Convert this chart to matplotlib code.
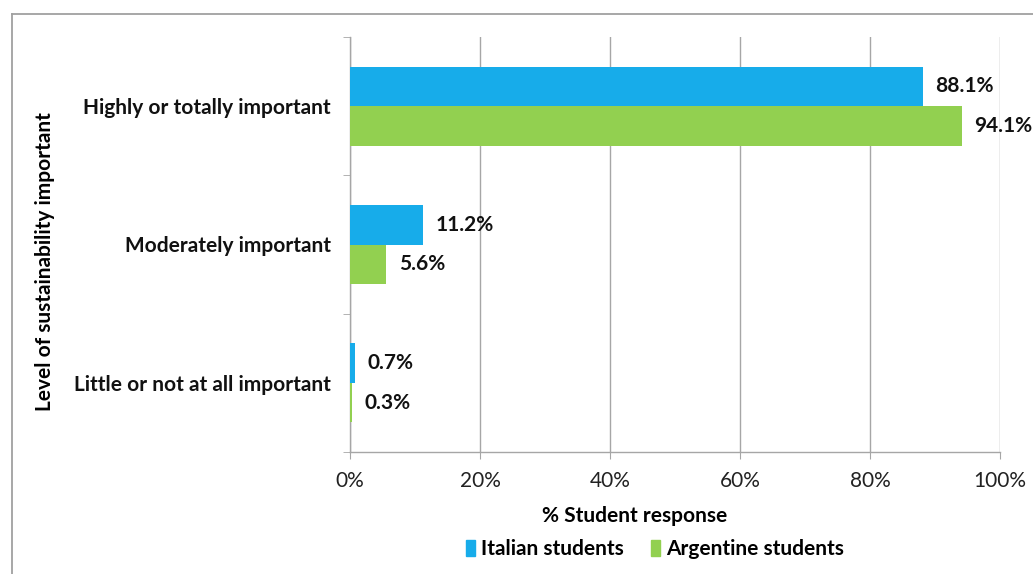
import matplotlib
matplotlib.use("Agg")
import matplotlib.pyplot as plt
from matplotlib.lines import Line2D
from matplotlib.patches import Patch
import numpy as np

categories = ["Highly or totally important", "Moderately important", "Little or not at all important"]
italian = [88.1, 11.2, 0.7]
argentine = [94.1, 5.6, 0.3]
series_names = ["Italian students", "Argentine students"]
x_ticks = [0, 20, 40, 60, 80, 100]

BLUE = "#17ACEA"
GREEN = "#92D050"
GRID = "#A6A6A6"
FONT = "Lato"
FS = 15

plt.rcParams["font.family"] = [FONT, "DejaVu Sans"]

fig = plt.figure(figsize=(10.33, 5.74), dpi=100)
ax = fig.add_axes([350 / 1033, 1 - 452 / 574, 650 / 1033, 415 / 574])

# outer chart frame (left and top edges visible)
fig.add_artist(Line2D([12 / 1033, 12 / 1033], [1 - 14 / 574, 0], transform=fig.transFigure,
                      color="#A0A0A0", lw=1.3))
fig.add_artist(Line2D([12 / 1033, 1], [1 - 14 / 574, 1 - 14 / 574], transform=fig.transFigure,
                      color="#A0A0A0", lw=1.3))

y = np.arange(len(categories))
h = 0.285
ax.barh(y - h / 2, italian, height=h, color=BLUE, zorder=3)
ax.barh(y + h / 2, argentine, height=h, color=GREEN, zorder=3)

for yi, v in zip(y - h / 2, italian):
    ax.annotate(f"{v:.1f}%", (v, yi), xytext=(9, 0), textcoords="offset points",
                va="center", ha="left", fontsize=FS, fontweight="bold", color="#111111")
for yi, v in zip(y + h / 2, argentine):
    ax.annotate(f"{v:.1f}%", (v, yi), xytext=(9, 0), textcoords="offset points",
                va="center", ha="left", fontsize=FS, fontweight="bold", color="#111111",
                annotation_clip=False)

ax.set_xlim(0, 100)
ax.set_ylim(len(categories) - 0.5, -0.5)
ax.set_xticks(x_ticks)
ax.set_xticklabels([f"{t}%" for t in x_ticks], fontsize=FS, color="#222222")
ax.set_yticks(y)
ax.set_yticklabels(categories, fontsize=FS, fontweight="bold", color="#111111")
ax.set_yticks(np.arange(len(categories) + 1) - 0.5, minor=True)
ax.tick_params(axis="y", which="major", length=0, pad=14)
ax.tick_params(axis="y", which="minor", length=5, color=GRID, direction="out")
ax.tick_params(axis="x", which="major", length=5, color=GRID, direction="out", pad=9)

ax.grid(axis="x", color=GRID, lw=1.0, zorder=0)
for s in ["top", "right"]:
    ax.spines[s].set_visible(False)
for s in ["left", "bottom"]:
    ax.spines[s].set_color(GRID)
    ax.spines[s].set_linewidth(1.0)

fig.text(635 / 1033, 1 - 516 / 574, "% Student response", ha="center", va="center",
         fontsize=FS, fontweight="bold")
fig.text(45 / 1033, 1 - 262 / 574, "Level of sustainability important", rotation=90,
         ha="center", va="center", fontsize=FS, fontweight="bold")

handles = [Patch(color=BLUE), Patch(color=GREEN)]
fig.legend(handles, series_names, loc="center", bbox_to_anchor=(655 / 1033, 1 - 549 / 574),
           ncol=2, frameon=False, handlelength=0.45, handleheight=0.8, handletextpad=0.3,
           columnspacing=1.3, prop={"family": [FONT, "DejaVu Sans"], "weight": "bold", "size": FS})

fig.savefig("out.png", dpi=100)
